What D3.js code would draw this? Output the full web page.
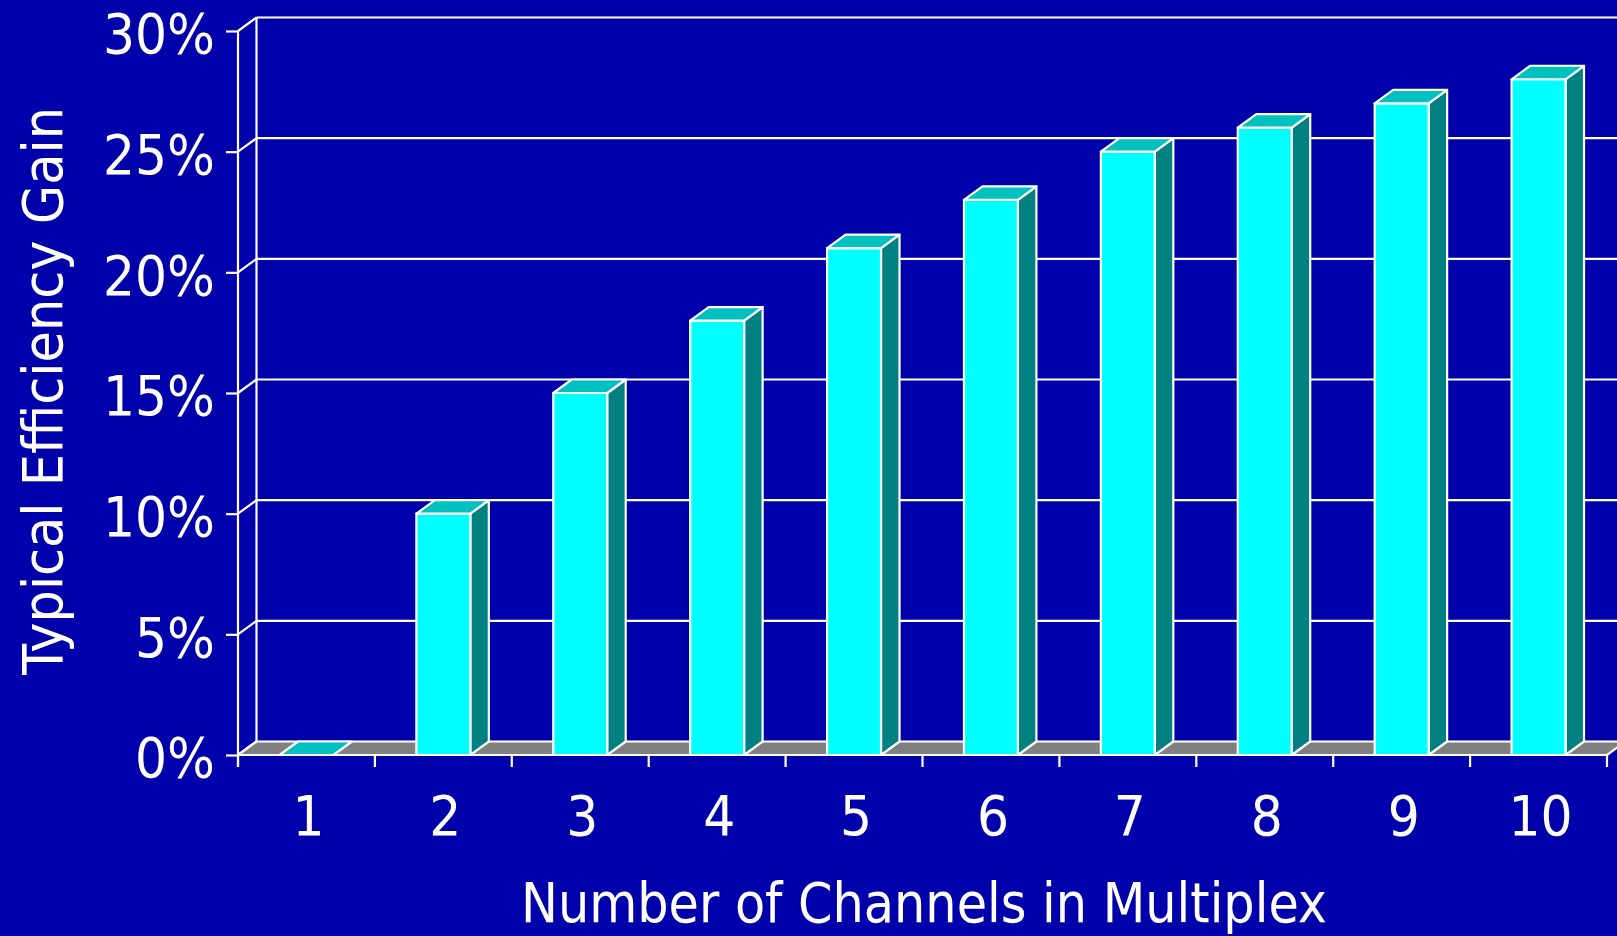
<!DOCTYPE html>
<html>
<head>
<meta charset="utf-8">
<script src="https://cdn.jsdelivr.net/npm/d3@7"></script>
<style>
  html, body { margin: 0; padding: 0; background: #0000AA; overflow: hidden; }
  svg { display: block; }
  text { font-family: "DejaVu Sans Condensed", "DejaVu Sans", sans-serif; fill: #ffffff; }
</style>
</head>
<body>
<svg id="chart" width="1617" height="936"></svg>
<script>
// Channels per multiplex and the typical efficiency gain (%) for each
const channels = ["1", "2", "3", "4", "5", "6", "7", "8", "9", "10"];
const gains = [0, 10, 15, 18, 21, 23, 25, 26, 27, 28];
const yTicks = [0, 5, 10, 15, 20, 25, 30];
const xTitle = "Number of Channels in Multiplex";
const yTitle = "Typical Efficiency Gain";

const W = 1617, H = 936;
const plotLeft = 238, plotRight = 1607, plotTop = 31, plotBottom = 755;
const depthX = 18.5, depthY = -13.5;   // oblique depth of the 3-D box
const barPad = 0.606;

const colors = {
  front: "#00FFFF",
  side: "#008080",
  top: "#00C0C0",
  floor: "#808080",
  line: "#FFFFFF"
};

const svg = d3.select("#chart");

const y = d3.scaleLinear().domain([0, 30]).range([plotBottom, plotTop]);
const x = d3.scaleBand().domain(channels).range([plotLeft, plotRight])
  .paddingInner(barPad).paddingOuter(barPad / 2);
const step = x.step();

// Back wall vertical edge and horizontal gridlines
const wall = svg.append("g").attr("stroke", colors.line).attr("stroke-width", 2.2).attr("fill", "none");
wall.append("line")
  .attr("x1", plotLeft + depthX).attr("x2", plotLeft + depthX)
  .attr("y1", y(30) + depthY).attr("y2", y(0) + depthY);
wall.selectAll("line.grid").data(yTicks.filter(d => d > 0)).join("line")
  .attr("class", "grid")
  .attr("x1", plotLeft + depthX).attr("x2", W + 10)
  .attr("y1", d => y(d) + depthY).attr("y2", d => y(d) + depthY);
// Side wall diagonals
wall.selectAll("line.diag").data(yTicks).join("line")
  .attr("class", "diag")
  .attr("x1", plotLeft).attr("x2", plotLeft + depthX)
  .attr("y1", d => y(d)).attr("y2", d => y(d) + depthY);

// Floor
svg.append("path")
  .attr("d", `M${plotLeft},${y(0)}L${plotRight},${y(0)}L${plotRight + depthX},${y(0) + depthY}L${plotLeft + depthX},${y(0) + depthY}Z`)
  .attr("fill", colors.floor).attr("stroke", colors.line).attr("stroke-width", 2.2)
  .attr("stroke-linejoin", "round");

// Bars
const bars = svg.append("g").attr("stroke", colors.line).attr("stroke-width", 2.2).attr("stroke-linejoin", "round");
channels.forEach((c, i) => {
  const v = gains[i];
  const x0 = x(c), x1 = x(c) + x.bandwidth();
  const yt = y(v), yb = y(0);
  const g = bars.append("g");
  if (v > 0) {
    g.append("path")
      .attr("d", `M${x1},${yb}L${x1 + depthX},${yb + depthY}L${x1 + depthX},${yt + depthY}L${x1},${yt}Z`)
      .attr("fill", colors.side);
    g.append("rect")
      .attr("x", x0).attr("y", yt).attr("width", x1 - x0).attr("height", yb - yt)
      .attr("fill", colors.front);
  }
  g.append("path")
    .attr("d", `M${x0},${yt}L${x1},${yt}L${x1 + depthX},${yt + depthY}L${x0 + depthX},${yt + depthY}Z`)
    .attr("fill", colors.top);
});

// Y axis
const yAxis = svg.append("g")
  .attr("transform", `translate(${plotLeft},0)`)
  .call(d3.axisLeft(y).tickValues(yTicks).tickFormat(d => d + "%").tickSize(12).tickPadding(11));
yAxis.attr("font-family", null).attr("font-size", null);
yAxis.select(".domain").attr("stroke", colors.line).attr("stroke-width", 2.2)
  .attr("d", `M0,${y(30)}V${y(0) + 12}`);
yAxis.selectAll(".tick line").attr("stroke", colors.line).attr("stroke-width", 2.2);
yAxis.selectAll(".tick text")
  .attr("fill", colors.line).attr("font-size", 56).attr("dy", "0.39em");

// X axis: baseline with ticks between categories
const xAxis = svg.append("g");
xAxis.append("line")
  .attr("x1", plotLeft).attr("x2", plotRight).attr("y1", y(0)).attr("y2", y(0))
  .attr("stroke", colors.line).attr("stroke-width", 2.2);
const boundaries = d3.range(channels.length + 1).map(i => plotLeft + i * step);
xAxis.selectAll("line.tick").data(boundaries).join("line")
  .attr("class", "tick")
  .attr("x1", d => d).attr("x2", d => d)
  .attr("y1", y(0)).attr("y2", y(0) + 12)
  .attr("stroke", colors.line).attr("stroke-width", 2.2);
xAxis.selectAll("text").data(channels).join("text")
  .attr("x", d => x(d) + x.bandwidth() / 2 + 2)
  .attr("y", 835)
  .attr("text-anchor", "middle")
  .attr("font-size", 56)
  .text(d => d);

// Axis titles
svg.append("text")
  .attr("x", 924).attr("y", 922)
  .attr("text-anchor", "middle")
  .attr("font-size", 56)
  .attr("textLength", 806).attr("lengthAdjust", "spacingAndGlyphs")
  .text(xTitle);

svg.append("text")
  .attr("transform", "translate(62,391) rotate(-90)")
  .attr("text-anchor", "middle")
  .attr("font-size", 56)
  .attr("textLength", 568).attr("lengthAdjust", "spacingAndGlyphs")
  .text(yTitle);
</script>
</body>
</html>
